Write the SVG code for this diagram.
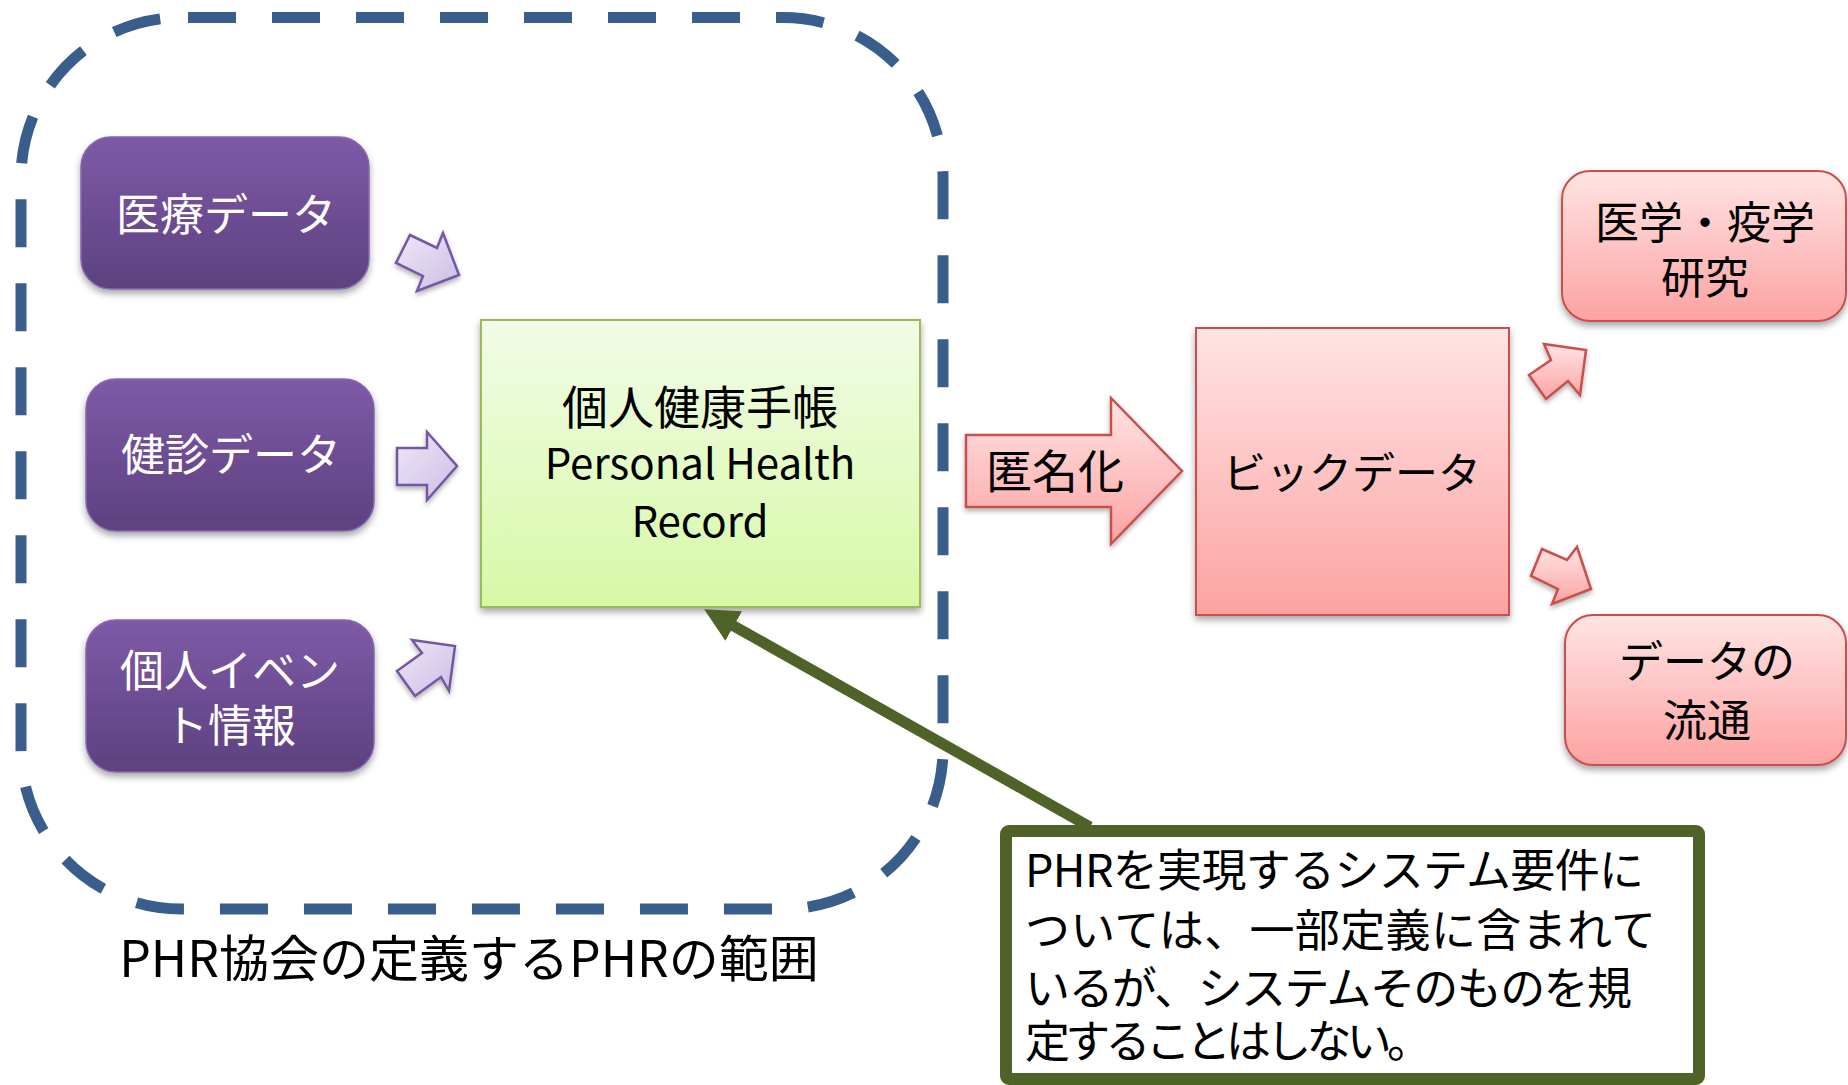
<svg xmlns="http://www.w3.org/2000/svg" width="1848" height="1085" viewBox="0 0 1848 1085">
<defs>
<style>
.t{font-family:"Noto Sans CJK JP","Noto Sans",sans-serif;}
.w{fill:#ffffff;font-size:44px;text-anchor:middle;}
.k{fill:#000000;text-anchor:middle;}
.pbox{fill:url(#gPurple);stroke:#8568AD;stroke-width:1.5;filter:url(#sh);}
.parr{fill:url(#gLav);stroke:#7657A3;stroke-width:2.5;stroke-linejoin:miter;filter:url(#sh2);}
.pink{fill:url(#gPink);stroke:#C9504D;stroke-width:2;filter:url(#sh);}
.rarr{fill:url(#gPink);stroke:#C9504D;stroke-width:2.5;filter:url(#sh2);}
</style>
<linearGradient id="gPurple" x1="0" y1="0" x2="0" y2="1">
<stop offset="0" stop-color="#7E5AA7"/>
<stop offset="1" stop-color="#5D4180"/>
</linearGradient>
<linearGradient id="gLav" x1="0" y1="0" x2="1" y2="1">
<stop offset="0" stop-color="#EEE8F7"/>
<stop offset="1" stop-color="#CBBDE5"/>
</linearGradient>
<linearGradient id="gGreen" x1="0" y1="0" x2="0" y2="1">
<stop offset="0" stop-color="#F2FCE7"/>
<stop offset="1" stop-color="#D6F9A6"/>
</linearGradient>
<linearGradient id="gPink" x1="0" y1="0" x2="0" y2="1">
<stop offset="0" stop-color="#FFE4E4"/>
<stop offset="1" stop-color="#FCA3A2"/>
</linearGradient>
<filter id="sh" x="-10%" y="-10%" width="120%" height="130%">
<feDropShadow dx="0" dy="4" stdDeviation="3.5" flood-color="#000" flood-opacity="0.35"/>
</filter>
<filter id="sh2" x="-20%" y="-20%" width="140%" height="150%">
<feDropShadow dx="0" dy="3" stdDeviation="2.5" flood-color="#000" flood-opacity="0.3"/>
</filter>
<marker id="ah" markerUnits="userSpaceOnUse" markerWidth="40" markerHeight="40" viewBox="0 -20 40 40" refX="2" refY="0" orient="auto">
<path d="M0,-17 L34,0 L0,17 Z" fill="#4F6228"/>
</marker>
</defs>

<rect width="1848" height="1085" fill="#ffffff"/>

<g id="scope">
<path d="M181,17.5 H783 A160,160 0 0 1 943,177.5 V749 A160,160 0 0 1 783,909 H181 A160,160 0 0 1 21,749 V177.5 A160,160 0 0 1 181,17.5 Z" fill="none" stroke="#3A5E8B" stroke-width="11" stroke-dasharray="48 36" stroke-dashoffset="77"/>
<text class="t k" x="469" y="977" style="font-size:50px">PHR協会の定義するPHRの範囲</text>
</g>

<g id="iryo">
<rect class="pbox" x="81" y="137" width="288" height="152" rx="30"/>
<text class="t w" x="226" y="231">医療データ</text>
</g>
<g id="kenshin">
<rect class="pbox" x="86" y="379" width="288" height="152" rx="30"/>
<text class="t w" x="231" y="471">健診データ</text>
</g>
<g id="event">
<rect class="pbox" x="86" y="620" width="288" height="152" rx="30"/>
<text class="t w" x="230" y="687">個人イベン</text>
<text class="t w" x="230" y="742">ト情報</text>
</g>

<g id="arrows-in">
<polygon class="parr" points="410,235 437,248 443,233 459,275 417,291 423,276 396,263"/>
<polygon class="parr" points="397,448 427,448 427,432 457,466 427,500 427,485 397,485"/>
<polygon class="parr" points="412,640 455,646 449,691 441,677 415,696 397,671 422,653"/>
</g>

<g id="phr">
<rect x="481" y="320" width="439" height="287" fill="url(#gGreen)" stroke="#9BBB59" stroke-width="2" filter="url(#sh)"/>
<text class="t k" x="700" y="424" style="font-size:46px">個人健康手帳</text>
<text class="t k" x="700" y="479" style="font-size:42px">Personal Health</text>
<text class="t k" x="700" y="537" style="font-size:42px">Record</text>
</g>

<g id="tokumeika">
<polygon class="rarr" points="966,435 1111,435 1111,398 1182,471 1111,544 1111,507 966,507"/>
<text class="t k" x="1055" y="488" style="font-size:46px">匿名化</text>
</g>

<g id="bigdata">
<rect x="1196" y="328" width="313" height="287" fill="url(#gPink)" stroke="#C9504D" stroke-width="2" filter="url(#sh)"/>
<text class="t k" x="1352" y="489" style="font-size:43px">ビックデータ</text>
</g>

<g id="arrows-out">
<polygon class="rarr" points="1544,344 1586,350 1580,395 1568,381 1546,399 1529,375 1551,360"/>
<polygon class="rarr" points="1542,549 1567,560 1577,547 1591,589 1552,604 1558,589 1531,576"/>
</g>

<g id="kenkyu">
<rect class="pink" x="1562" y="171" width="284" height="150" rx="28"/>
<text class="t k" x="1705" y="239" style="font-size:44px">医学・疫学</text>
<text class="t k" x="1705" y="294" style="font-size:44px">研究</text>
</g>

<g id="ryutsu">
<rect class="pink" x="1565" y="615" width="281" height="150" rx="28"/>
<text class="t k" x="1707" y="678" style="font-size:44px">データの</text>
<text class="t k" x="1707" y="737" style="font-size:44px">流通</text>
</g>

<g id="note">
<rect x="1006" y="831" width="693" height="248" rx="3" fill="#ffffff" stroke="#4F6228" stroke-width="12"/>
<text class="t" x="1025" y="887" style="font-size:45px" textLength="619">PHRを実現するシステム要件に</text>
<text class="t" x="1025" y="947" style="font-size:45px" textLength="631">ついては、一部定義に含まれて</text>
<text class="t" x="1025" y="1005" style="font-size:45px" textLength="607">いるが、システムそのものを規</text>
<text class="t" x="1025" y="1058" style="font-size:45px" textLength="407">定することはしない。</text>
</g>

<g id="connectors">
<line x1="1090" y1="827" x2="732" y2="625" stroke="#4F6228" stroke-width="11" marker-end="url(#ah)"/>
</g>
</svg>
